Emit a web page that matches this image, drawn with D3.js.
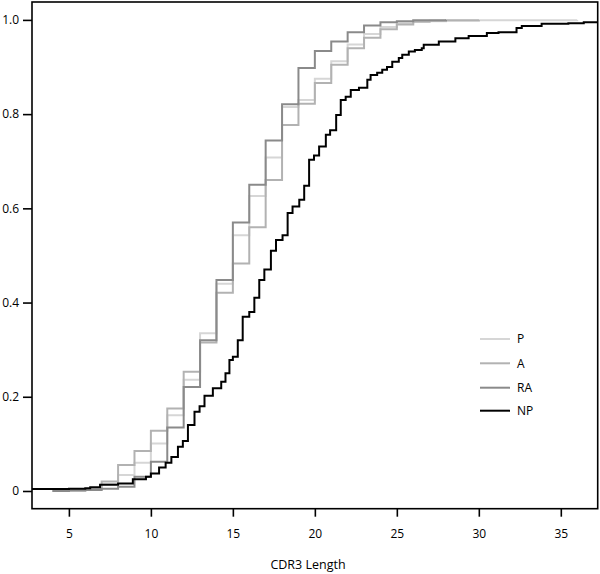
<!DOCTYPE html>
<html lang="en">
<head>
<meta charset="UTF-8">
<title>CDR3 Length cumulative distribution</title>
<script src="https://d3js.org/d3.v7.min.js"></script>
<style>
    body { margin: 0; background: #fff; }
    text { font-family: "Open Sans", "DejaVu Sans", sans-serif; }
    .series { fill: none; stroke-width: 2; }
</style>
</head>
<body>
<div id="chart"></div>
<script>
    // CDR3 lengths (integer steps) and cumulative fractions for each group
    const lengthsP  = [4, 5, 6, 7, 8, 9, 10, 11, 12, 13, 14, 15, 16, 17, 18, 19, 20, 21, 22, 23, 24, 25, 26, 28, 30, 36];
    const cumP      = [0, 0.002, 0.005, 0.015, 0.034, 0.060, 0.101, 0.161, 0.236, 0.335, 0.440, 0.543, 0.626, 0.708, 0.815, 0.830, 0.875, 0.912, 0.948, 0.970, 0.985, 0.993, 0.997, 0.998, 0.999, 1.0];

    const lengthsA  = [4, 5, 6, 7, 8, 9, 10, 11, 12, 13, 14, 15, 16, 17, 18, 19, 20, 21, 22, 23, 24, 25, 26, 27, 28, 30];
    const cumA      = [0, 0.001, 0.004, 0.020, 0.055, 0.085, 0.128, 0.175, 0.253, 0.315, 0.421, 0.483, 0.560, 0.660, 0.777, 0.822, 0.866, 0.905, 0.940, 0.962, 0.980, 0.990, 0.996, 0.998, 0.999, 1.0];

    const lengthsRA = [4, 5, 6, 7, 8, 9, 10, 11, 12, 13, 14, 15, 16, 17, 18, 19, 20, 21, 22, 23, 24, 25, 26, 28];
    const cumRA     = [0, 0.001, 0.002, 0.005, 0.009, 0.030, 0.062, 0.135, 0.221, 0.320, 0.448, 0.570, 0.650, 0.744, 0.821, 0.898, 0.934, 0.954, 0.974, 0.988, 0.995, 0.997, 0.999, 1.0];

    // NP has many small steps
    const lengthsNP = [2.7, 4, 5, 6, 6.3, 6.9, 8.0, 8.9, 9.7, 10.0, 10.5, 10.9, 11.25, 11.65, 11.95, 12.26, 12.66, 12.97, 13.27, 13.78, 14.29, 14.55, 14.79, 15.0, 15.3, 15.6, 16.0, 16.31, 16.61, 16.92, 17.32, 17.63, 18.03, 18.34, 18.64, 19.05, 19.35, 19.65, 19.95, 20.26, 20.67, 20.93, 21.3, 21.58, 21.88, 22.19, 22.69, 23.2, 23.4, 23.8, 24.11, 24.4, 24.72, 25.12, 25.33, 25.73, 26.1, 26.52, 26.64, 27.56, 28.57, 29.38, 30.49, 31.2, 32.3, 32.62, 33.83, 35.46, 36.4, 37.3];
    const cumNP     = [0.004, 0.004, 0.005, 0.006, 0.008, 0.013, 0.016, 0.025, 0.030, 0.037, 0.050, 0.060, 0.072, 0.094, 0.106, 0.140, 0.168, 0.180, 0.202, 0.218, 0.232, 0.250, 0.278, 0.285, 0.320, 0.370, 0.380, 0.410, 0.448, 0.470, 0.510, 0.533, 0.543, 0.590, 0.604, 0.618, 0.648, 0.703, 0.712, 0.731, 0.756, 0.766, 0.798, 0.830, 0.837, 0.851, 0.856, 0.873, 0.883, 0.888, 0.894, 0.900, 0.911, 0.919, 0.926, 0.933, 0.936, 0.940, 0.947, 0.954, 0.961, 0.966, 0.972, 0.974, 0.983, 0.987, 0.992, 0.993, 0.995, 0.996];

    const groups  = ["P", "A", "RA", "NP"];
    const colours = ["#d6d6d6", "#b2b2b2", "#8a8a8a", "#000000"];
    const xTicks  = [5, 10, 15, 20, 25, 30, 35];
    const yTicks  = [0, 0.2, 0.4, 0.6, 0.8, 1.0];
    const yLabels = ["0", "0.2", "0.4", "0.6", "0.8", "1.0"];

    const series = [
        { name: "P",  xs: lengthsP,  ys: cumP },
        { name: "A",  xs: lengthsA,  ys: cumA },
        { name: "RA", xs: lengthsRA, ys: cumRA },
        { name: "NP", xs: lengthsNP, ys: cumNP }
    ];

    const width = 600, height = 574;
    const box = { left: 32, right: 597.7, top: 2, bottom: 508.7 };

    const svg = d3.select("#chart").append("svg")
        .attr("width", width)
        .attr("height", height);

    const x = d3.scaleLinear().domain([2.75, 37.25]).range([box.left, box.right]);
    const y = d3.scaleLinear().domain([-0.0376, 1.038]).range([box.bottom, box.top]);

    svg.append("clipPath").attr("id", "plotclip")
        .append("rect")
        .attr("x", box.left).attr("y", box.top)
        .attr("width", box.right - box.left).attr("height", box.bottom - box.top);

    // step lines
    const line = d3.line()
        .x(d => x(d[0]))
        .y(d => y(d[1]))
        .curve(d3.curveStepAfter);

    series.forEach(s => {
        svg.append("path")
            .datum(d3.zip(s.xs, s.ys))
            .attr("class", "series")
            .attr("clip-path", "url(#plotclip)")
            .attr("stroke", colours[groups.indexOf(s.name)])
            .attr("d", line);
    });

    // frame
    svg.append("rect")
        .attr("x", box.left).attr("y", box.top)
        .attr("width", box.right - box.left).attr("height", box.bottom - box.top)
        .attr("fill", "none")
        .attr("stroke", "#000")
        .attr("stroke-width", 1.6);

    // axes
    const xAxis = svg.append("g")
        .attr("transform", `translate(0,${box.bottom})`)
        .call(d3.axisBottom(x).tickValues(xTicks).tickSize(8).tickPadding(13).tickFormat(d3.format("d")));

    const yAxis = svg.append("g")
        .attr("transform", `translate(${box.left},0)`)
        .call(d3.axisLeft(y).tickValues(yTicks).tickSize(9).tickPadding(4).tickFormat((d, i) => yLabels[i]));

    [xAxis, yAxis].forEach(g => {
        g.select(".domain").remove();
        g.selectAll(".tick line").attr("stroke", "#000").attr("stroke-width", 1.6);
        g.selectAll(".tick text").attr("fill", "#000").style("font-size", "12px")
            .style("font-family", "'Open Sans', 'DejaVu Sans', sans-serif");
    });

    svg.append("text")
        .attr("x", 308)
        .attr("y", 569)
        .attr("text-anchor", "middle")
        .style("font-size", "12.5px")
        .text("CDR3 Length");

    // legend
    const legend = svg.append("g");
    const legendY = [339, 363.3, 387.7, 410.7];
    groups.forEach((g, i) => {
        legend.append("line")
            .attr("x1", 480).attr("x2", 510)
            .attr("y1", legendY[i]).attr("y2", legendY[i])
            .attr("stroke", colours[i])
            .attr("stroke-width", 2);
        legend.append("text")
            .attr("x", 517)
            .attr("y", legendY[i])
            .attr("dy", "0.35em")
            .style("font-size", "12px")
            .text(g);
    });
</script>
</body>
</html>
